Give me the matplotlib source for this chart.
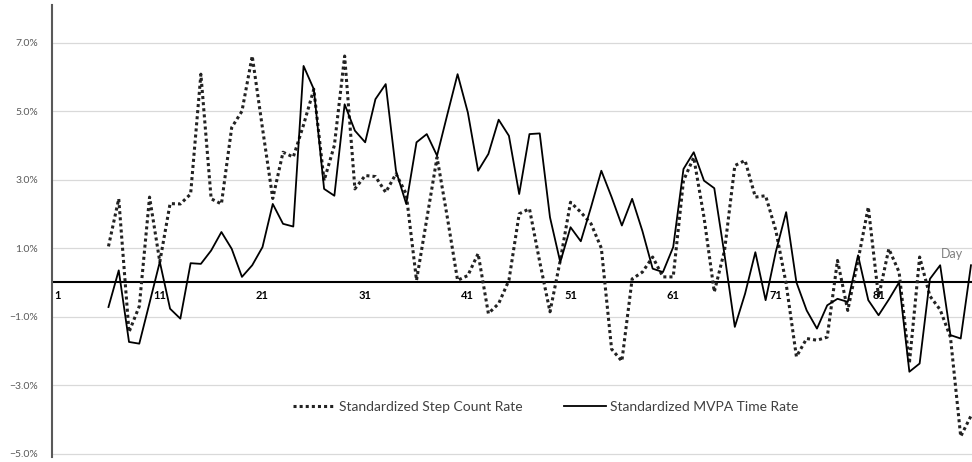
import numpy as np
import matplotlib.pyplot as plt
from matplotlib.ticker import PercentFormatter

plt.rcParams["font.family"] = ["Lato", "DejaVu Sans"]

days = np.arange(6, 91)
step_rate = [1.05, 2.44, -1.45, -0.7, 2.49, 0.6, 2.3, 2.29, 2.58, 6.08,
             2.44, 2.29, 4.52, 5.0, 6.61, 4.5, 2.45, 3.8, 3.66, 4.6,
             5.64, 2.97, 4.0, 6.61, 2.73, 3.12, 3.09, 2.63, 3.17, 2.58,
             0.06, 1.85, 3.65, 1.9, 0.06, 0.2, 0.84, -0.91, -0.62, 0.06,
             2.0, 2.15, 0.6, -0.86, 0.64, 2.34, 2.05, 1.71, 1.0, -1.95,
             -2.3, 0.1, 0.3, 0.74, 0.16, 0.16, 2.97, 3.65, 1.9, -0.28,
             0.93, 3.41, 3.56, 2.49, 2.53, 1.51, -0.04, -2.17, -1.64, -1.69,
             -1.6, 0.64, -0.82, 0.64, 2.2, -0.43, 0.98, 0.3, -2.37, 0.74,
             -0.4, -0.8, -1.6, -4.5, -3.9]
mvpa_rate = [-0.72, 0.35, -1.74, -1.79, -0.6, 0.6, -0.77, -1.06, 0.56, 0.54,
             0.93, 1.47, 0.98, 0.16, 0.5, 1.03, 2.29, 1.71, 1.63, 6.32,
             5.64, 2.73, 2.53, 5.2, 4.43, 4.09, 5.35, 5.79, 3.26, 2.29,
             4.09, 4.33, 3.7, 4.9, 6.08, 4.96, 3.26, 3.75, 4.75, 4.28,
             2.58, 4.33, 4.35, 1.9, 0.59, 1.61, 1.2, 2.2, 3.26, 2.49,
             1.66, 2.44, 1.5, 0.4, 0.3, 1.03, 3.31, 3.8, 2.97, 2.75,
             0.8, -1.3, -0.33, 0.88, -0.52, 0.9, 2.05, 0.0, -0.82, -1.35,
             -0.67, -0.48, -0.57, 0.79, -0.52, -0.96, -0.5, 0.0, -2.61, -2.37,
             0.1, 0.5, -1.54, -1.64, 0.5]
label_days = np.arange(1, 91, 10)
y_ticks = [-5, -3, -1, 1, 3, 5, 7]

fig = plt.figure(figsize=(9.72, 4.62), dpi=100)
ax = fig.add_axes([52 / 972, 5 / 462, 920 / 972, 452 / 462])

ax.plot(days, step_rate, color="#222222", lw=2.2, linestyle=(0, (1, 1.0)),
        label="Standardized Step Count Rate")
ax.plot(days, mvpa_rate, color="black", lw=1.3,
        label="Standardized MVPA Time Rate")
ax.axhline(0, color="black", lw=1.5, zorder=1)

ax.set_xlim(0.5, 90.1)
ax.set_ylim(-5.1, 8.1)
ax.set_yticks(y_ticks)
ax.yaxis.set_major_formatter(PercentFormatter(decimals=1))
ax.tick_params(axis="y", length=0, pad=10, labelsize=7.5, labelcolor="#595959")
ax.set_xticks([])
ax.grid(axis="y", color="#d9d9d9", lw=0.9)
ax.set_axisbelow(True)

for s in ["top", "right", "bottom"]:
    ax.spines[s].set_visible(False)
ax.spines["left"].set_color("#595959")
ax.spines["left"].set_linewidth(1.5)

for d in label_days:
    ax.text(d, -0.38, str(d), ha="center", va="center", fontsize=8,
            fontweight="bold", color="black")

ax.text(88.2, 0.82, "Day", ha="center", va="center", fontsize=9, color="#808080")

ax.legend(loc="center", bbox_to_anchor=(0.537, 0.11), ncol=2, frameon=False,
          fontsize=10, handlelength=3.0, handletextpad=0.3, columnspacing=3.0,
          labelcolor="#404040")

fig.savefig("out.png", dpi=100)
